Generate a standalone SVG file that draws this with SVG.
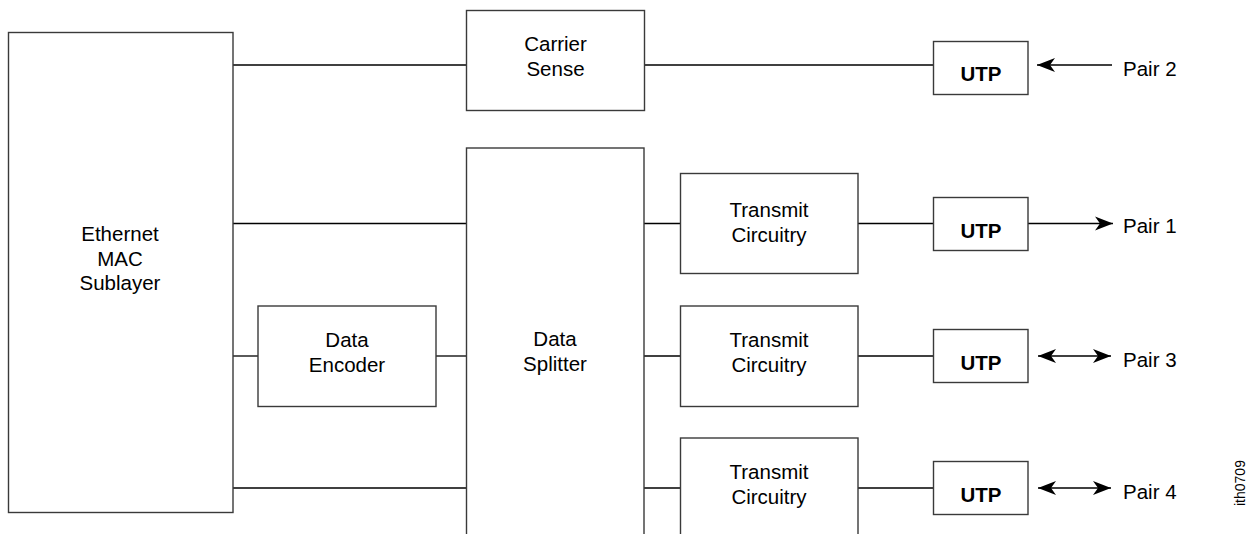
<svg xmlns="http://www.w3.org/2000/svg" width="1248" height="534" viewBox="0 0 1248 534">
  <style>
    .box { fill: #fff; stroke: #3a3a3a; stroke-width: 1.4; }
    .wire { fill: none; stroke: #000; stroke-width: 1.3; }
    .lbl { font-family: "Liberation Sans", Arial, sans-serif; font-size: 20.5px; fill: #000; text-anchor: middle; }
    .utp { font-family: "Liberation Sans", Arial, sans-serif; font-size: 20.5px; font-weight: bold; fill: #000; text-anchor: middle; }
    .pair { font-family: "Liberation Sans", Arial, sans-serif; font-size: 20.5px; fill: #000; }
    .tag { font-family: "Liberation Sans", Arial, sans-serif; font-size: 14px; fill: #000; }
  </style>
  <defs>
    <marker id="head" viewBox="-19 -8 20 16" refX="0" refY="0" markerWidth="20" markerHeight="16" markerUnits="userSpaceOnUse" orient="auto-start-reverse">
      <path d="M0,0 L-18,-7 L-13,0 L-18,7 Z" fill="#000"/>
    </marker>
  </defs>

  <rect width="1248" height="534" fill="#fff"/>

  <!-- connectors -->
  <g id="connectors">
    <line class="wire" x1="233" y1="65" x2="466" y2="65"/>
    <line class="wire" x1="645" y1="65" x2="933" y2="65"/>
    <line class="wire" x1="233" y1="223.5" x2="466" y2="223.5"/>
    <line class="wire" x1="233" y1="356" x2="258" y2="356"/>
    <line class="wire" x1="436" y1="356" x2="466" y2="356"/>
    <line class="wire" x1="233" y1="488" x2="466" y2="488"/>
    <line class="wire" x1="644" y1="223.5" x2="680" y2="223.5"/>
    <line class="wire" x1="644" y1="356" x2="680" y2="356"/>
    <line class="wire" x1="644" y1="488" x2="680" y2="488"/>
    <line class="wire" x1="858" y1="223.5" x2="933" y2="223.5"/>
    <line class="wire" x1="858" y1="356" x2="933" y2="356"/>
    <line class="wire" x1="858" y1="488" x2="933" y2="488"/>
    <!-- external pair arrows -->
    <line class="wire" x1="1112" y1="65" x2="1037" y2="65" marker-end="url(#head)"/>
    <line class="wire" x1="1028" y1="223.5" x2="1113" y2="223.5" marker-end="url(#head)"/>
    <line class="wire" x1="1038" y1="356" x2="1111" y2="356" marker-start="url(#head)" marker-end="url(#head)"/>
    <line class="wire" x1="1038" y1="488" x2="1111" y2="488" marker-start="url(#head)" marker-end="url(#head)"/>
  </g>

  <g id="mac">
    <rect class="box" x="8.5" y="32.5" width="224.5" height="480"/>
    <text class="lbl" x="120" y="241">Ethernet</text>
    <text class="lbl" x="120" y="265.5">MAC</text>
    <text class="lbl" x="120" y="290">Sublayer</text>
  </g>

  <g id="carrier-sense">
    <rect class="box" x="466.5" y="10.5" width="178" height="100"/>
    <text class="lbl" x="555.5" y="51">Carrier</text>
    <text class="lbl" x="555.5" y="76">Sense</text>
  </g>

  <g id="data-splitter">
    <rect class="box" x="466.5" y="148" width="177.5" height="400"/>
    <text class="lbl" x="555" y="346">Data</text>
    <text class="lbl" x="555" y="371">Splitter</text>
  </g>

  <g id="data-encoder">
    <rect class="box" x="258" y="306" width="178" height="100.5"/>
    <text class="lbl" x="347" y="347">Data</text>
    <text class="lbl" x="347" y="372">Encoder</text>
  </g>

  <g id="transmit-1">
    <rect class="box" x="680.5" y="173.5" width="177.5" height="100"/>
    <text class="lbl" x="769" y="216.5">Transmit</text>
    <text class="lbl" x="769" y="241.5">Circuitry</text>
  </g>

  <g id="transmit-2">
    <rect class="box" x="680.5" y="306" width="177.5" height="100.5"/>
    <text class="lbl" x="769" y="347">Transmit</text>
    <text class="lbl" x="769" y="372">Circuitry</text>
  </g>

  <g id="transmit-3">
    <rect class="box" x="680.5" y="438" width="177.5" height="110"/>
    <text class="lbl" x="769" y="479">Transmit</text>
    <text class="lbl" x="769" y="504">Circuitry</text>
  </g>

  <g id="utp-2">
    <rect class="box" x="933.5" y="41.5" width="94.5" height="53"/>
    <text class="utp" x="981" y="81">UTP</text>
  </g>
  <g id="utp-1">
    <rect class="box" x="933.5" y="197.5" width="94.5" height="53"/>
    <text class="utp" x="981" y="238">UTP</text>
  </g>
  <g id="utp-3">
    <rect class="box" x="933.5" y="329.5" width="94.5" height="53"/>
    <text class="utp" x="981" y="370">UTP</text>
  </g>
  <g id="utp-4">
    <rect class="box" x="933.5" y="461.5" width="94.5" height="53"/>
    <text class="utp" x="981" y="502">UTP</text>
  </g>

  <g id="pair-labels">
    <text class="pair" x="1123" y="76">Pair 2</text>
    <text class="pair" x="1123" y="233">Pair 1</text>
    <text class="pair" x="1123" y="366.5">Pair 3</text>
    <text class="pair" x="1123" y="499">Pair 4</text>
  </g>

  <text class="tag" transform="translate(1245,506) rotate(-90)">ith0709</text>
</svg>
